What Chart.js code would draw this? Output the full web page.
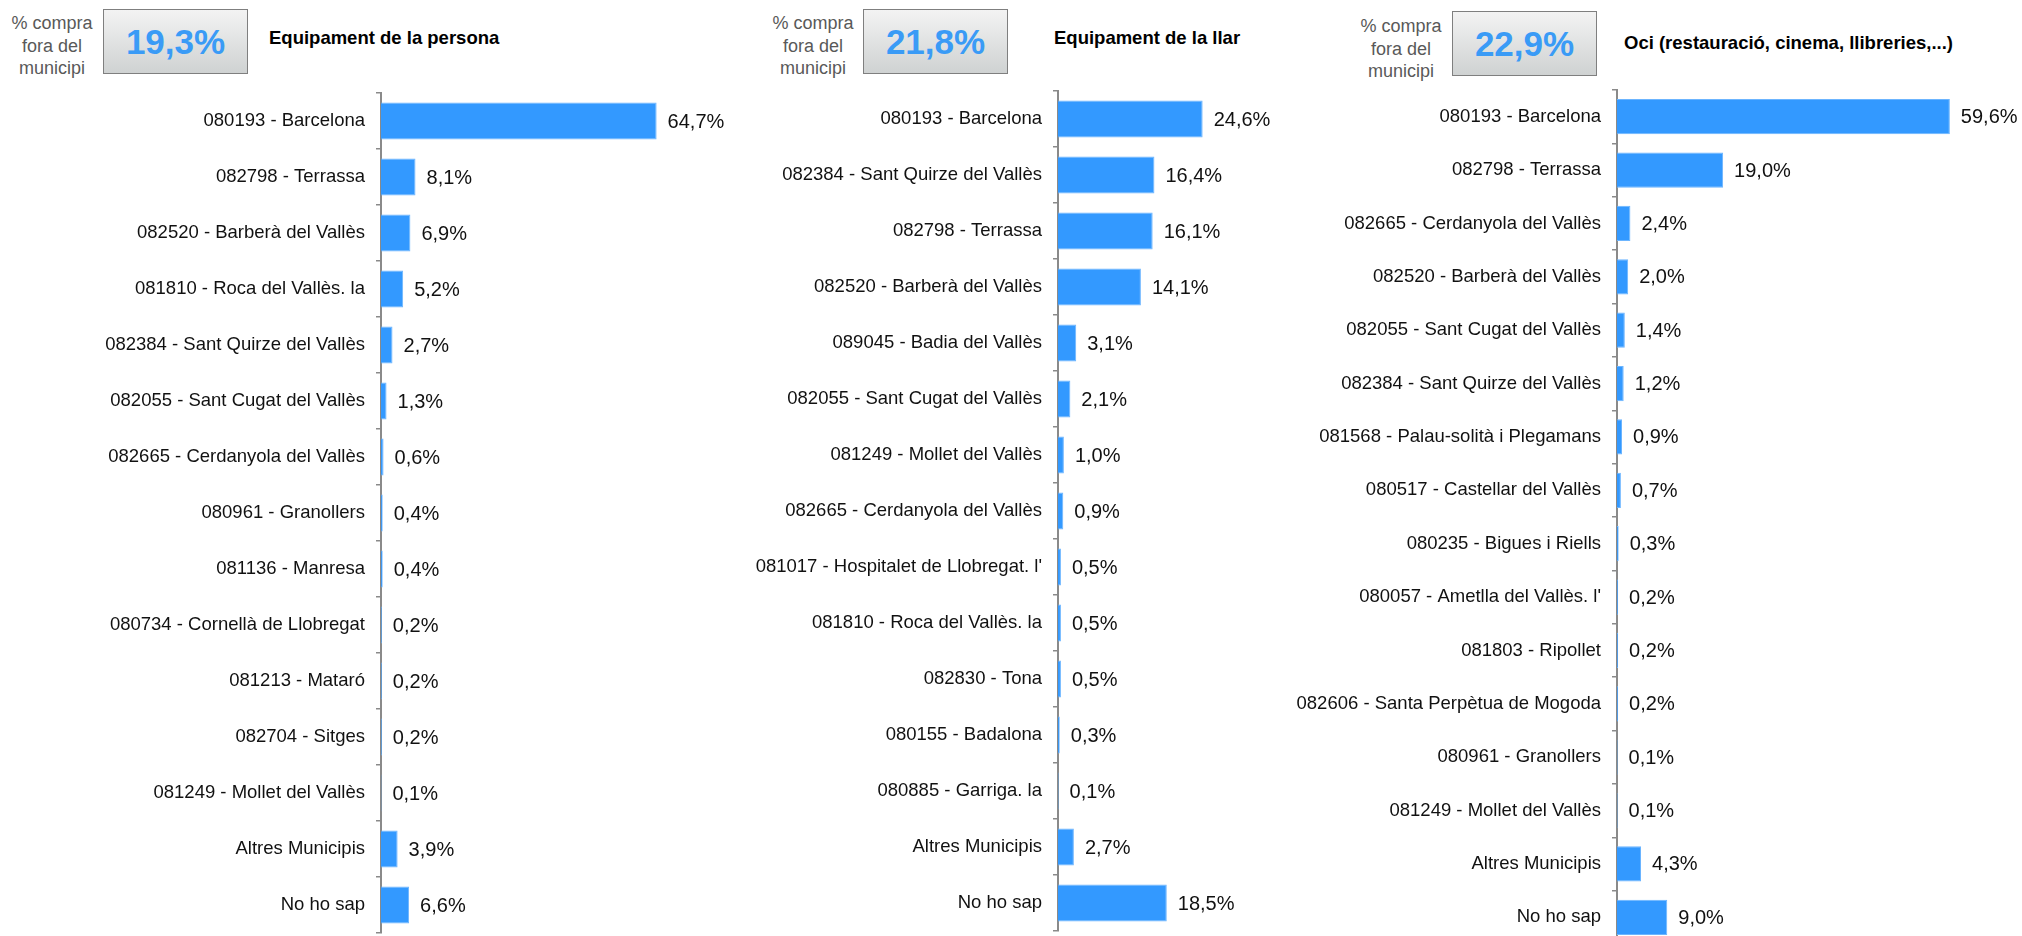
<!DOCTYPE html>
<html>
<head>
<meta charset="utf-8">
<script src="https://cdn.jsdelivr.net/npm/chart.js@4.4.0/dist/chart.umd.min.js"></script>
<style>
  html, body { margin:0; padding:0; background:#fff; width:2022px; height:936px; overflow:hidden; }
  body { position:relative; font-family:"Liberation Sans", Arial, sans-serif; }
  .pc { position:absolute; width:100px; text-align:center; font-size:18px; line-height:22.5px; color:#595959; }
  .box { position:absolute; width:143px; height:63px; border:1.5px solid #7f7f7f;
         background:linear-gradient(#f3f3f3, #cfd2d2); display:flex; align-items:center; justify-content:center;
         font-weight:bold; font-size:35px; color:#3a9bf6; letter-spacing:0px; }
  .ttl { position:absolute; font-weight:bold; font-size:18.5px; color:#000; white-space:nowrap; line-height:22px; }
  canvas { position:absolute; top:0; }
</style>
</head>
<body>
<div class="pc" id="pc1" style="left:2px;top:12px;"></div>
<div class="box" id="box1" style="left:103px;top:9px;"></div>
<div class="ttl" id="t1" style="left:269px;top:27px;"></div>

<div class="pc" id="pc2" style="left:763px;top:12px;"></div>
<div class="box" id="box2" style="left:863px;top:9px;"></div>
<div class="ttl" id="t2" style="left:1054px;top:27px;"></div>

<div class="pc" id="pc3" style="left:1351px;top:15px;"></div>
<div class="box" id="box3" style="left:1452px;top:11px;"></div>
<div class="ttl" id="t3" style="left:1624px;top:32px;"></div>

<canvas id="c1" width="740" height="936" style="left:0px;"></canvas>
<canvas id="c2" width="550" height="936" style="left:740px;"></canvas>
<canvas id="c3" width="732" height="946" style="left:1290px;"></canvas>

<script>
// ---- Data ----
const headerLabel = "% compra<br>fora del<br>municipi";
const totals = ["19,3%", "21,8%", "22,9%"];
const titles = ["Equipament de la persona", "Equipament de la llar", "Oci (restauració, cinema, llibreries,...)"];

const cats1 = ["080193 - Barcelona", "082798 - Terrassa", "082520 - Barberà del Vallès", "081810 - Roca del Vallès. la",
  "082384 - Sant Quirze del Vallès", "082055 - Sant Cugat del Vallès", "082665 - Cerdanyola del Vallès", "080961 - Granollers",
  "081136 - Manresa", "080734 - Cornellà de Llobregat", "081213 - Mataró", "082704 - Sitges", "081249 - Mollet del Vallès",
  "Altres Municipis", "No ho sap"];
const vals1 = [64.7, 8.1, 6.9, 5.2, 2.7, 1.3, 0.6, 0.4, 0.4, 0.2, 0.2, 0.2, 0.1, 3.9, 6.6];

const cats2 = ["080193 - Barcelona", "082384 - Sant Quirze del Vallès", "082798 - Terrassa", "082520 - Barberà del Vallès",
  "089045 - Badia del Vallès", "082055 - Sant Cugat del Vallès", "081249 - Mollet del Vallès", "082665 - Cerdanyola del Vallès",
  "081017 - Hospitalet de Llobregat. l'", "081810 - Roca del Vallès. la", "082830 - Tona", "080155 - Badalona",
  "080885 - Garriga. la", "Altres Municipis", "No ho sap"];
const vals2 = [24.6, 16.4, 16.1, 14.1, 3.1, 2.1, 1.0, 0.9, 0.5, 0.5, 0.5, 0.3, 0.1, 2.7, 18.5];

const cats3 = ["080193 - Barcelona", "082798 - Terrassa", "082665 - Cerdanyola del Vallès", "082520 - Barberà del Vallès",
  "082055 - Sant Cugat del Vallès", "082384 - Sant Quirze del Vallès", "081568 - Palau-solità i Plegamans",
  "080517 - Castellar del Vallès", "080235 - Bigues i Riells", "080057 - Ametlla del Vallès. l'", "081803 - Ripollet",
  "082606 - Santa Perpètua de Mogoda", "080961 - Granollers", "081249 - Mollet del Vallès", "Altres Municipis", "No ho sap"];
const vals3 = [59.6, 19.0, 2.4, 2.0, 1.4, 1.2, 0.9, 0.7, 0.3, 0.2, 0.2, 0.2, 0.1, 0.1, 4.3, 9.0];

// ---- Headers ----
for (let i = 0; i < 3; i++) {
  document.getElementById('pc' + (i + 1)).innerHTML = headerLabel;
  document.getElementById('box' + (i + 1)).textContent = totals[i];
  document.getElementById('t' + (i + 1)).textContent = titles[i];
}

const FONT = '"Liberation Sans", Arial, sans-serif';
const fmt = v => v.toFixed(1).replace('.', ',') + '%';

const valueLabels = {
  id: 'valueLabels',
  afterDatasetsDraw(chart) {
    const ctx = chart.ctx;
    const meta = chart.getDatasetMeta(0);
    const data = chart.data.datasets[0].data;
    ctx.save();
    ctx.font = '20px ' + FONT;
    ctx.fillStyle = '#111';
    ctx.textAlign = 'left';
    ctx.textBaseline = 'middle';
    meta.data.forEach((el, i) => {
      ctx.fillText(fmt(data[i]), el.x + 11, el.y + 1);
    });
    ctx.restore();
  }
};

function makeChart(id, cats, vals, axisW, xMax, padTop, padBottom) {
  new Chart(document.getElementById(id), {
    type: 'bar',
    data: {
      labels: cats,
      datasets: [{
        data: vals,
        backgroundColor: '#3399ff',
        borderColor: '#6cb5ff',
        borderWidth: 1,
        barPercentage: 0.66,
        categoryPercentage: 1.0
      }]
    },
    options: {
      indexAxis: 'y',
      responsive: false,
      animation: false,
      layout: { padding: { top: padTop, bottom: padBottom, left: 0, right: 0 } },
      plugins: { legend: { display: false }, tooltip: { enabled: false } },
      scales: {
        x: { display: false, min: 0, max: xMax },
        y: {
          afterFit(s) { s.width = axisW; s.paddingTop = 0; s.paddingBottom = 0; },
          border: { display: true, color: '#8a8a8a', width: 2 },
          grid: { display: true, drawOnChartArea: false, drawTicks: true, tickLength: 5, color: '#8a8a8a', lineWidth: 1.5, offset: true },
          ticks: { autoSkip: false, padding: 11, color: '#111', font: { family: FONT, size: 18.5 } }
        }
      }
    },
    plugins: [valueLabels]
  });
}

makeChart('c1', cats1, vals1, 381, 359 / 4.26, 93, 3);
makeChart('c2', cats2, vals2, 318, 232 / 5.88, 91, 5);
makeChart('c3', cats3, vals3, 327, 405 / 5.585, 90, 2);
</script>
</body>
</html>
